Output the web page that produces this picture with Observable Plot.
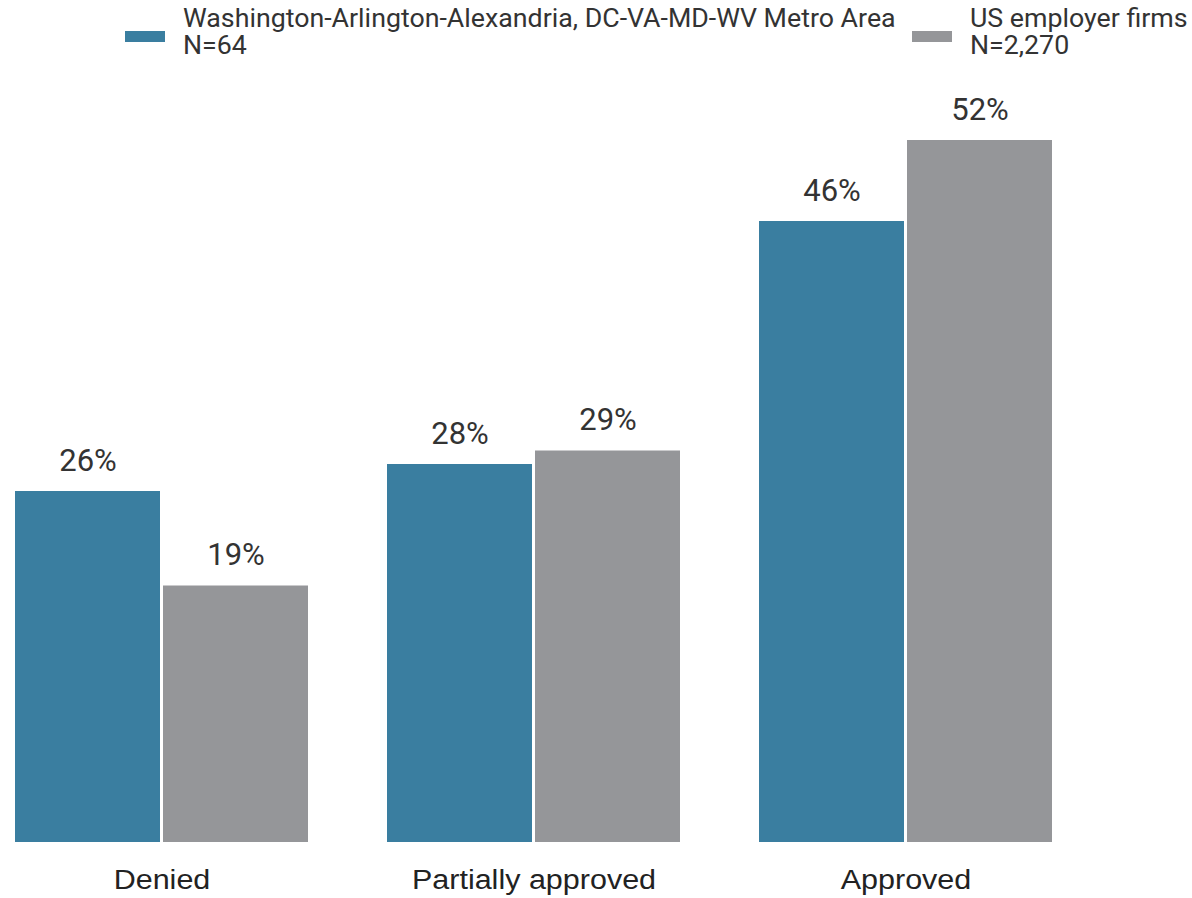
<!DOCTYPE html>
<html>
<head>
<meta charset="utf-8">
<script src="https://cdn.jsdelivr.net/npm/d3@7"></script>
<script src="https://cdn.jsdelivr.net/npm/@observablehq/plot@0.6"></script>
<style>
  html, body { margin: 0; padding: 0; background: #fff; }
  #wrap { position: relative; width: 1192px; height: 898px; overflow: hidden; }
  #legend { position: relative; height: 65px; font-family: Roboto, sans-serif; font-size: 25px; color: #333; }
  .item { position: absolute; top: 5px; line-height: 27px; }
  .sw { position: absolute; width: 40px; height: 11px; top: 26px; }
  .lbl { position: absolute; left: 58px; top: 0; white-space: nowrap; transform: scaleX(1.07); transform-origin: left center; }
</style>
</head>
<body>
<div id="wrap">
  <div id="legend"></div>
  <div id="chart"></div>
</div>
<script>
const categories = ["Denied", "Partially approved", "Approved"];
const seriesNames = ["Washington-Arlington-Alexandria, DC-VA-MD-WV Metro Area", "US employer firms"];
const seriesN = ["N=64", "N=2,270"];
const metroValues = [26, 28, 46];
const usValues = [19, 29, 52];
const colors = ["#3a7ea0", "#959699"];

const data = [];
categories.forEach((c, i) => {
  data.push({category: c, series: seriesNames[0], value: metroValues[i]});
  data.push({category: c, series: seriesNames[1], value: usValues[i]});
});

// legend
const legend = document.getElementById("legend");
const legendX = [125, 912];
seriesNames.forEach((s, i) => {
  const it = document.createElement("div");
  it.className = "item";
  it.style.left = legendX[i] + "px";
  const sw = document.createElement("div");
  sw.className = "sw";
  sw.style.background = colors[i];
  const lb = document.createElement("div");
  lb.className = "lbl";
  lb.innerHTML = s + "<br>" + seriesN[i];
  it.appendChild(sw);
  it.appendChild(lb);
  legend.appendChild(it);
});

const chart = Plot.plot({
  width: 1192,
  height: 833,
  marginTop: 75,
  marginBottom: 56,
  marginLeft: 14,
  marginRight: 139,
  style: {fontFamily: "Roboto, sans-serif", background: "#fff"},
  fx: {domain: categories, paddingInner: 0.2075, paddingOuter: 0, label: null, axis: null},
  x: {domain: seriesNames, paddingInner: 0.02, paddingOuter: 0, axis: null},
  y: {domain: [0, 52], axis: null},
  color: {domain: seriesNames, range: colors},
  marks: [
    Plot.barY(data, {fx: "category", x: "series", y: "value", fill: "series"}),
    Plot.text(data, {fx: "category", x: "series", y: "value", text: d => d.value + "%", dy: -21, lineAnchor: "bottom", fontSize: 31, fill: "#333"}),
    Plot.axisFx({anchor: "bottom", tickSize: 0, tickPadding: 27, label: null, fontSize: 28, fontFamily: "Liberation Sans, Arial, sans-serif", color: "#222"})
  ]
});
document.getElementById("chart").appendChild(chart);
// widen category labels slightly to match reference proportions
const ns = "http://www.w3.org/2000/svg";
Array.from(chart.querySelectorAll("text")).forEach(function(el) {
  if (!categories.includes(el.textContent.trim())) return;
  const g = document.createElementNS(ns, "g");
  el.parentNode.insertBefore(g, el);
  g.appendChild(el);
  const b = g.getBBox();
  const cx = b.x + b.width / 2;
  g.setAttribute("transform", `translate(${cx},0) scale(1.09,1) translate(${-cx},0)`);
});
</script>
</body>
</html>
